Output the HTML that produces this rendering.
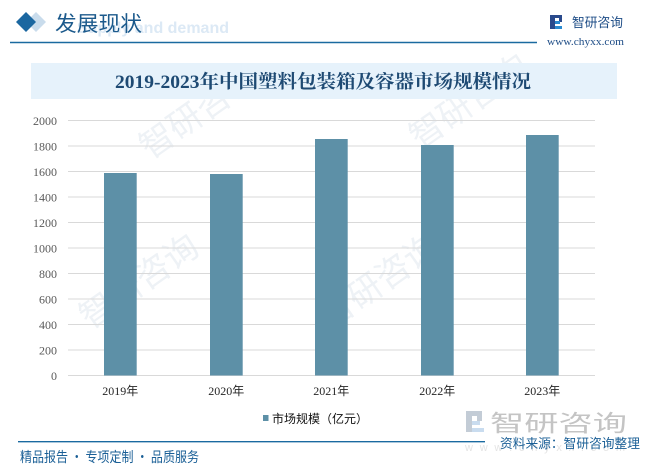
<!DOCTYPE html>
<html><head><meta charset="utf-8">
<style>
html,body{margin:0;padding:0;background:#fff;}
svg{display:block;}
</style></head>
<body>
<svg width="646" height="474" viewBox="0 0 646 474" xmlns="http://www.w3.org/2000/svg">
<rect width="646" height="474" fill="#fff"/>
<!-- faint watermarks -->
<g fill="#eef2f6" font-family="Liberation Sans, Noto Sans CJK SC, sans-serif">
  <text x="150" y="160" font-size="34" transform="rotate(-35 150 160)">智研咨询</text>
  <text x="420" y="150" font-size="34" transform="rotate(-35 420 150)">智研咨询</text>
  <text x="90" y="330" font-size="34" transform="rotate(-35 90 330)">智研咨询</text>
  <text x="330" y="330" font-size="34" transform="rotate(-35 330 330)">智研咨询</text>
</g>
<!-- header -->
<text x="229" y="33" text-anchor="end" font-family="Liberation Sans, sans-serif" font-weight="bold" font-size="16" fill="#dce9f5">Supply and demand</text>
<polygon points="36,12 46,22 36,32 26,22" fill="#c9dcec"/>
<polygon points="26,12 36,22 26,32 16,22" fill="#1b67a0"/>
<text x="55" y="31" font-family="Noto Sans CJK SC, sans-serif" font-size="21" fill="#1c5a8c" textLength="87" lengthAdjust="spacingAndGlyphs">发展现状</text>
<line x1="10" y1="42.5" x2="537" y2="42.5" stroke="#1a6aa0" stroke-width="1.5"/>
<!-- logo -->
<g>
  <rect x="550" y="15" width="5" height="14" fill="#2a4a8c"/>
  <rect x="555" y="15" width="7" height="3" fill="#2a4a8c"/>
  <rect x="559" y="18" width="3" height="4" fill="#2a4a8c"/>
  <rect x="555" y="21" width="5" height="3" fill="#2a8ad0"/>
  <rect x="555" y="26" width="7" height="3" fill="#2a8ad0"/>
</g>
<text x="572" y="27" font-family="Noto Sans CJK SC, sans-serif" font-size="13" fill="#1d4c86" textLength="51" lengthAdjust="spacingAndGlyphs">智研咨询</text>
<text x="547" y="45" font-family="Liberation Serif, serif" font-size="10" fill="#1d4c86" textLength="77" lengthAdjust="spacingAndGlyphs">www.chyxx.com</text>
<!-- title banner -->
<rect x="31" y="63" width="586" height="36" fill="#e6f2fb"/>
<text x="323" y="88" text-anchor="middle" font-family="Liberation Serif, Noto Serif CJK SC, serif" font-weight="bold" font-size="18.5" fill="#1e4a73" textLength="416" lengthAdjust="spacingAndGlyphs">2019-2023年中国塑料包装箱及容器市场规模情况</text>
<!-- grid -->
<g stroke="#d9d9d9" stroke-width="1">
  <line x1="68" y1="120.5" x2="595" y2="120.5"/>
  <line x1="68" y1="146" x2="595" y2="146"/>
  <line x1="68" y1="171.5" x2="595" y2="171.5"/>
  <line x1="68" y1="197" x2="595" y2="197"/>
  <line x1="68" y1="222.5" x2="595" y2="222.5"/>
  <line x1="68" y1="248" x2="595" y2="248"/>
  <line x1="68" y1="273.5" x2="595" y2="273.5"/>
  <line x1="68" y1="299" x2="595" y2="299"/>
  <line x1="68" y1="324.5" x2="595" y2="324.5"/>
  <line x1="68" y1="350" x2="595" y2="350"/>
  <line x1="68" y1="375.5" x2="595" y2="375.5"/>
</g>
<g font-family="Liberation Serif, serif" font-size="12" fill="#595959" text-anchor="end">
  <text x="57" y="125">2000</text>
  <text x="57" y="150.5">1800</text>
  <text x="57" y="176">1600</text>
  <text x="57" y="201.5">1400</text>
  <text x="57" y="227">1200</text>
  <text x="57" y="252.5">1000</text>
  <text x="57" y="278">800</text>
  <text x="57" y="303.5">600</text>
  <text x="57" y="329">400</text>
  <text x="57" y="354.5">200</text>
  <text x="57" y="380">0</text>
</g>
<!-- bars -->
<g fill="#5d90a7">
  <rect x="104" y="173" width="32.7" height="202.5"/>
  <rect x="210" y="174" width="32.7" height="201.5"/>
  <rect x="315" y="139" width="32.7" height="236.5"/>
  <rect x="421" y="145" width="32.7" height="230.5"/>
  <rect x="526" y="135" width="32.7" height="240.5"/>
</g>
<g font-family="Liberation Serif, Noto Sans CJK SC, serif" font-size="12" fill="#262626" text-anchor="middle">
  <text x="120.3" y="395">2019年</text>
  <text x="226.3" y="395">2020年</text>
  <text x="331.3" y="395">2021年</text>
  <text x="437.3" y="395">2022年</text>
  <text x="542.3" y="395">2023年</text>
</g>
<!-- legend -->
<rect x="263" y="415" width="5.5" height="6" fill="#5d90a7"/>
<text x="272" y="423" font-family="Noto Sans CJK SC, sans-serif" font-size="12" fill="#111" textLength="96" lengthAdjust="spacingAndGlyphs">市场规模（亿元）</text>
<!-- bottom watermark -->
<g>
  <rect x="466" y="411" width="6" height="21" fill="#c3ccd6"/>
  <rect x="472" y="411" width="10" height="5" fill="#c3ccd6"/>
  <rect x="477" y="416" width="5" height="5" fill="#c3ccd6"/>
  <rect x="472" y="421" width="8" height="4" fill="#c9dcef"/>
  <rect x="472" y="428" width="12" height="4" fill="#c9dcef"/>
</g>
<text x="490" y="431" font-family="Noto Sans CJK SC, sans-serif" font-size="23" fill="#c4c4c4" textLength="137" lengthAdjust="spacingAndGlyphs">智研咨询</text>
<text x="465" y="451" font-family="Liberation Sans, sans-serif" font-size="11" fill="#e4e4e4" textLength="160" lengthAdjust="spacing">w w w . c h y x x . c o m</text>
<!-- footer -->
<line x1="18" y1="441.7" x2="485" y2="441.7" stroke="#1a6aa0" stroke-width="1.3"/>
<text x="500" y="448" font-family="Noto Sans CJK SC, sans-serif" font-size="13" fill="#1a5f96" textLength="140" lengthAdjust="spacingAndGlyphs">资料来源：智研咨询整理</text>
<text x="20" y="462" font-family="Noto Sans CJK SC, sans-serif" font-size="14" fill="#1a5f96" textLength="179" lengthAdjust="spacingAndGlyphs">精品报告 · 专项定制 · 品质服务</text>
</svg>
</body></html>
